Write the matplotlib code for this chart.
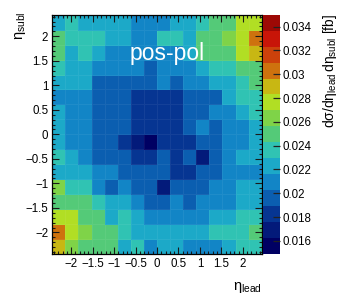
import numpy as np
import matplotlib
matplotlib.use("Agg")
import matplotlib.pyplot as plt
from matplotlib.colors import LinearSegmentedColormap, ListedColormap, BoundaryNorm
from matplotlib.ticker import MultipleLocator

plt.rcParams['font.family'] = ['Liberation Sans', 'DejaVu Sans']
plt.rcParams['mathtext.fontset'] = 'custom'
plt.rcParams['mathtext.rm'] = 'Liberation Sans'
plt.rcParams['mathtext.it'] = 'Liberation Sans:italic'

# ---------------- data ----------------
eta_range = (-2.44, 2.44)
n_bins = 16
# cross section per cell, units of 1e-3 fb; rows from top (eta_subl high) to bottom
xsec_rows = [
    [22.3, 23.6, 22.3, 22.3, 22.3, 22.3, 20.9, 20.9, 20.9, 22.3, 22.3, 23.6, 25.0, 25.0, 27.6, 27.6],
    [25.0, 23.6, 23.6, 23.6, 22.3, 22.3, 20.9, 20.9, 23.6, 23.6, 22.3, 25.0, 25.0, 26.3, 27.6, 30.3],
    [25.0, 22.3, 23.6, 22.3, 20.9, 20.9, 20.9, 20.9, 20.9, 20.9, 22.3, 25.0, 25.0, 25.0, 27.6, 29.0],
    [23.6, 22.3, 22.3, 20.9, 20.9, 20.9, 20.9, 19.6, 20.9, 20.9, 20.9, 22.3, 23.6, 23.6, 25.0, 25.0],
    [22.3, 22.3, 22.3, 19.6, 19.6, 19.6, 19.6, 19.6, 20.9, 19.6, 20.9, 20.9, 22.3, 22.3, 23.6, 25.0],
    [20.9, 20.9, 20.9, 19.6, 19.6, 19.6, 18.3, 18.3, 18.3, 18.3, 19.6, 19.6, 19.6, 22.3, 23.6, 23.6],
    [22.3, 20.9, 20.9, 19.6, 19.6, 19.6, 18.3, 18.3, 18.3, 18.3, 19.6, 19.6, 20.9, 20.9, 22.3, 23.6],
    [22.3, 20.9, 20.9, 19.6, 19.6, 19.6, 18.3, 18.3, 18.3, 18.3, 19.6, 20.9, 19.6, 20.9, 20.9, 22.3],
    [22.3, 20.9, 20.9, 19.6, 19.6, 18.3, 16.9, 15.6, 18.3, 18.3, 18.3, 19.6, 19.6, 20.9, 20.9, 22.3],
    [23.6, 22.3, 20.9, 19.6, 19.6, 19.6, 18.3, 18.3, 19.6, 18.3, 19.6, 16.9, 19.6, 20.9, 22.3, 22.3],
    [22.3, 22.3, 22.3, 20.9, 20.9, 19.6, 19.6, 19.6, 19.6, 18.3, 18.3, 19.6, 19.6, 20.9, 20.9, 20.9],
    [26.3, 23.6, 23.6, 20.9, 19.6, 20.9, 19.6, 19.6, 16.9, 19.6, 19.6, 19.6, 20.9, 20.9, 22.3, 22.3],
    [25.0, 25.0, 25.0, 23.6, 22.3, 22.3, 20.9, 19.6, 19.6, 20.9, 19.6, 20.9, 20.9, 20.9, 22.3, 22.3],
    [27.6, 27.6, 25.0, 25.0, 22.3, 23.6, 22.3, 20.9, 20.9, 20.9, 20.9, 20.9, 22.3, 22.3, 23.6, 23.6],
    [30.3, 27.6, 26.3, 25.0, 25.0, 23.6, 22.3, 22.3, 22.3, 22.3, 22.3, 22.3, 23.6, 23.6, 23.6, 25.0],
    [29.0, 26.3, 25.0, 25.0, 25.0, 22.3, 23.6, 20.9, 22.3, 22.3, 20.9, 20.9, 20.9, 22.3, 23.6, 23.6],
]
z_range = (0.0149, 0.0350)
n_contours = 15
x_ticks = [-2, -1.5, -1, -0.5, 0, 0.5, 1, 1.5, 2]
y_ticks = [-2, -1.5, -1, -0.5, 0, 0.5, 1, 1.5, 2]
cbar_ticks = [0.016, 0.018, 0.020, 0.022, 0.024, 0.026, 0.028, 0.030, 0.032, 0.034]
label_text = "pos-pol"

# ROOT kRainBow palette stops
rb_stops = [0.0, 0.125, 0.25, 0.375, 0.5, 0.625, 0.75, 0.875, 1.0]
rb_red = [0, 5, 15, 35, 102, 196, 208, 199, 110]
rb_green = [0, 48, 124, 192, 206, 226, 97, 16, 0]
rb_blue = [99, 142, 198, 201, 90, 22, 13, 8, 2]


def fmt(v):
    return f"{v:g}".replace("-", "\u2212")


# ---------------- plotting ----------------
Z = np.array(xsec_rows)[::-1] * 1e-3
edges = np.linspace(eta_range[0], eta_range[1], n_bins + 1)

base = LinearSegmentedColormap.from_list(
    "rainbow_root",
    [(s, (r / 255, g / 255, b / 255)) for s, r, g, b in zip(rb_stops, rb_red, rb_green, rb_blue)])
band_cols = [base(i / n_contours) for i in range(n_contours)]
cmap = ListedColormap(band_cols)
levels = np.linspace(z_range[0], z_range[1], n_contours + 1)
norm = BoundaryNorm(levels, cmap.N)

W, H = 349, 303
fig = plt.figure(figsize=(W / 100, H / 100), dpi=100)
L, R, T, B = 52.3, 261.7, 14.7, 254.0
ax = fig.add_axes([L / W, 1 - B / H, (R - L) / W, (B - T) / H])
cax = fig.add_axes([263 / W, 1 - B / H, 16.5 / W, (B - T) / H])

ax.pcolormesh(edges, edges, Z, cmap=cmap, norm=norm,
              edgecolors=(1, 1, 1, 0.06), linewidth=0.5)
ax.set_xlim(eta_range)
ax.set_ylim(eta_range)
ax.set_xticks(x_ticks)
ax.set_yticks(y_ticks)
ax.set_xticklabels([fmt(v) for v in x_ticks])
ax.set_yticklabels([fmt(v) for v in y_ticks])
ax.xaxis.set_minor_locator(MultipleLocator(0.1))
ax.yaxis.set_minor_locator(MultipleLocator(0.1))
ax.tick_params(which='both', direction='in', top=True, right=True, labelsize=8.3, width=0.8, color='#1a1a1a')
ax.tick_params(which='major', length=5.0, pad=3)
ax.tick_params(which='minor', length=2.5)
for sp in ax.spines.values():
    sp.set_linewidth(0.9)

ax.text(0.548, 0.836, label_text, transform=ax.transAxes, color='white',
        fontsize=16.5, ha='center', va='center')

cb = fig.colorbar(plt.cm.ScalarMappable(norm=norm, cmap=cmap), cax=cax,
                  ticks=cbar_ticks, spacing='proportional')
cb.outline.set_visible(False)
cax.set_yticklabels([fmt(v) for v in cbar_ticks])
cax.tick_params(direction='in', length=5, width=0.9, right=True, left=False,
                labelsize=8.3, pad=2, color='#222222')
cax.minorticks_off()

fig.text(262 / W, 1 - 290 / H, r'$\mathrm{η_{lead}}$', ha='right', va='baseline', fontsize=10.5)
fig.text(20 / W, 1 - 12 / H, r'$\mathrm{η_{subl}}$', ha='center', va='top', rotation=90, fontsize=10.5)
fig.text(330 / W, 1 - 14 / H, r'$\mathrm{dσ/dη_{lead}\,dη_{subl}}$ [fb]', ha='center', va='top',
         rotation=90, fontsize=10)

fig.savefig("out.png", dpi=100)
